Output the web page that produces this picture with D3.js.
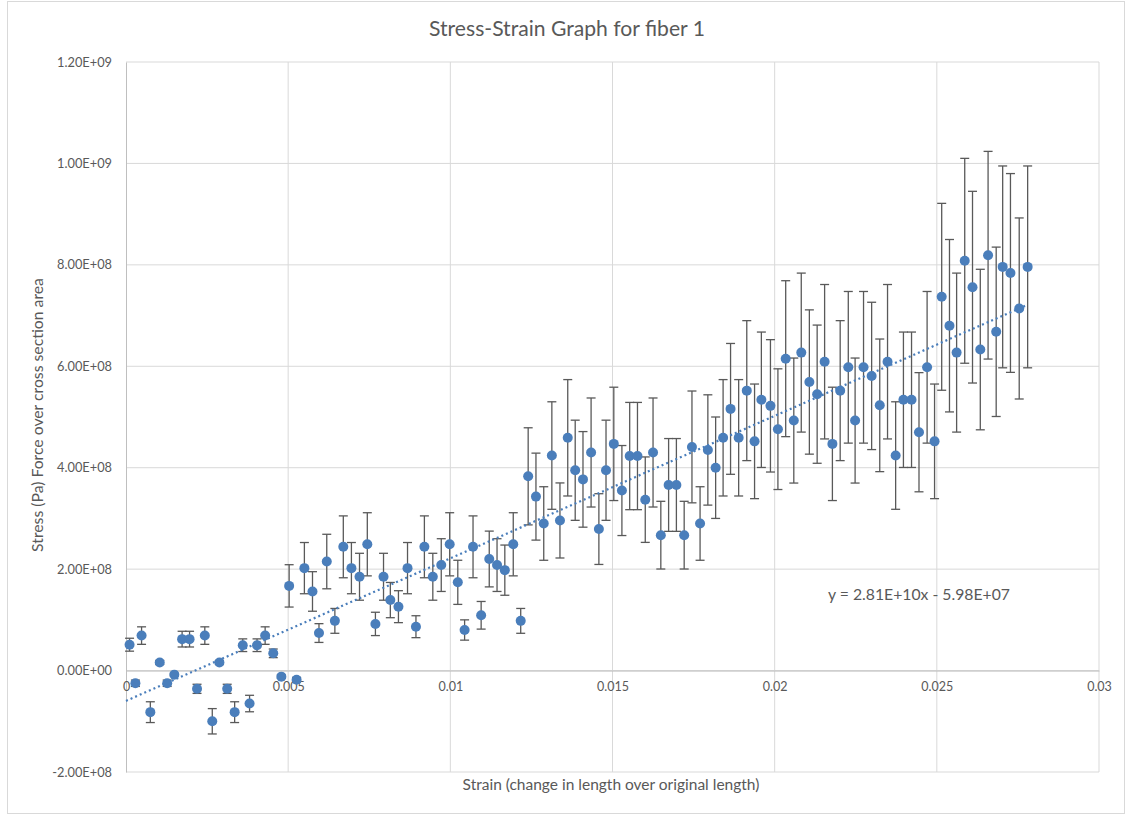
<!DOCTYPE html>
<html>
<head>
<meta charset="utf-8">
<script src="https://cdn.jsdelivr.net/npm/d3@7"></script>
<style>
  body { margin: 0; background: #fff; }
  text { font-family: Lato, "Open Sans", sans-serif; fill: #595959; }
</style>
</head>
<body>
<svg id="chart"></svg>
<script>
// strain values (x)
let strain = [
  0.00011, 0.00029, 0.00048, 0.00075, 0.00104, 0.00127, 0.00149, 0.00173, 0.00196, 0.00219,
  0.00243, 0.00266, 0.00288, 0.00312, 0.00335, 0.0036, 0.00381, 0.00404, 0.00429, 0.00454,
  0.00479, 0.00503, 0.00526, 0.0055, 0.00575, 0.00595, 0.00619, 0.00644, 0.0067, 0.00695,
  0.0072, 0.00744, 0.00769, 0.00794, 0.00815, 0.0084, 0.00868, 0.00894, 0.0092, 0.00946,
  0.00972, 0.00998, 0.01023, 0.01044, 0.0107, 0.01095, 0.0112, 0.01144, 0.01168, 0.01194,
  0.01217, 0.0124, 0.01264, 0.01288, 0.01313, 0.01338, 0.01362, 0.01385, 0.01409, 0.01434,
  0.01458, 0.0148, 0.01504, 0.01529, 0.01553, 0.01577, 0.01601, 0.01625, 0.01649, 0.01673,
  0.01697, 0.01721, 0.01745, 0.0177, 0.01794, 0.01818, 0.01841, 0.01864, 0.01889, 0.01914,
  0.01938, 0.01959, 0.01987, 0.0201, 0.02034, 0.02059, 0.02082, 0.02107, 0.02131, 0.02154,
  0.02178, 0.02202, 0.02227, 0.02248, 0.02274, 0.02299, 0.02324, 0.02348, 0.02373, 0.02397,
  0.02422, 0.02445, 0.0247, 0.02493, 0.02515, 0.02539, 0.02561, 0.02586, 0.0261, 0.02634,
  0.02658, 0.02683, 0.02703, 0.02727, 0.02754, 0.0278
];

// stress values (y, Pa)
let stress = [
  5.1e7, -2.5e7, 6.9e7, -8.2e7, 1.6e7, -2.5e7, -0.8e7, 6.2e7, 6.2e7, -3.6e7,
  6.9e7, -1.0e8, 1.6e7, -3.6e7, -8.2e7, 5.0e7, -6.5e7, 5.0e7, 6.9e7, 3.4e7,
  -1.2e7, 1.67e8, -1.8e7, 2.02e8, 1.56e8, 7.4e7, 2.15e8, 9.8e7, 2.44e8, 2.02e8,
  1.85e8, 2.49e8, 9.2e7, 1.85e8, 1.39e8, 1.26e8, 2.02e8, 8.65e7, 2.44e8, 1.85e8,
  2.08e8, 2.49e8, 1.74e8, 8.0e7, 2.44e8, 1.09e8, 2.2e8, 2.08e8, 1.98e8, 2.49e8,
  9.8e7, 3.83e8, 3.43e8, 2.9e8, 4.24e8, 2.96e8, 4.59e8, 3.95e8, 3.77e8, 4.3e8,
  2.79e8, 3.95e8, 4.47e8, 3.55e8, 4.23e8, 4.23e8, 3.37e8, 4.3e8, 2.67e8, 3.66e8,
  3.66e8, 2.67e8, 4.41e8, 2.9e8, 4.35e8, 4.0e8, 4.59e8, 5.16e8, 4.59e8, 5.52e8,
  4.52e8, 5.34e8, 5.22e8, 4.76e8, 6.15e8, 4.93e8, 6.27e8, 5.69e8, 5.45e8, 6.09e8,
  4.47e8, 5.52e8, 5.98e8, 4.93e8, 5.98e8, 5.81e8, 5.23e8, 6.09e8, 4.24e8, 5.34e8,
  5.34e8, 4.7e8, 5.98e8, 4.52e8, 7.37e8, 6.8e8, 6.27e8, 8.08e8, 7.56e8, 6.33e8,
  8.19e8, 6.68e8, 7.96e8, 7.84e8, 7.14e8, 7.96e8
];

// percentage error bars as set on the chart
let errorPercent = 0.25;

// linear trendline as printed on the chart
let slope = 2.81e10,
    intercept = -5.98e7;

let xTicks = [0, 0.005, 0.01, 0.015, 0.02, 0.025, 0.03];
let yTicks = [-2e8, 0, 2e8, 4e8, 6e8, 8e8, 1e9, 1.2e9];

let width = 1126,
    height = 817;

let blue = '#4a7ebb',
    grid = '#d9d9d9';

let svg = d3.select('#chart')
    .attr('width', width)
    .attr('height', height);

// outer chart border
svg.append('rect')
    .attr('x', 7.5).attr('y', 1.5)
    .attr('width', 1117).attr('height', 812)
    .attr('fill', '#fff')
    .attr('stroke', '#d9d9d9');

let x = d3.scaleLinear().domain([0, 0.03]).range([126, 1099]);
let y = d3.scaleLinear().domain([-2e8, 1.2e9]).range([772, 62]);

function sci(v) {
    let s = v.toExponential(2).toUpperCase();
    return s.replace(/E([+-])(\d)$/, 'E$10$2');
}

// scale a text's font so it spans the width seen in the reference
function fitWidth(sel, target) {
    let node = sel.node();
    let size = parseFloat(sel.style('font-size'));
    let w = node.getComputedTextLength();
    if (w > 0) sel.style('font-size', (size * target / w).toFixed(2) + 'px');
    return size * target / w;
}

// gridlines
svg.append('g').selectAll('line')
    .data(yTicks)
    .enter().append('line')
    .attr('x1', x(0)).attr('x2', x(0.03))
    .attr('y1', d => y(d)).attr('y2', d => y(d))
    .attr('stroke', grid);

svg.append('g').selectAll('line')
    .data(xTicks.slice(1))
    .enter().append('line')
    .attr('x1', d => x(d)).attr('x2', d => x(d))
    .attr('y1', y(1.2e9)).attr('y2', y(-2e8))
    .attr('stroke', grid);

// axes
let yAxis = svg.append('g')
    .attr('transform', `translate(${x(0)},0)`)
    .call(d3.axisLeft(y).tickValues(yTicks).tickFormat(sci).tickSize(0).tickPadding(14));
yAxis.select('.domain').attr('stroke', '#bfbfbf');
yAxis.selectAll('text').style('font-size', '12px').attr('fill', '#595959');
// "1.20E+09" is about 55px wide in the reference
let yFont = fitWidth(yAxis.selectAll('text').filter(d => d === 1.2e9), 55);
yAxis.selectAll('text').style('font-size', yFont + 'px');

let xAxis = svg.append('g')
    .attr('transform', `translate(0,${y(0)})`)
    .call(d3.axisBottom(x).tickValues(xTicks).tickFormat(d3.format('~g')).tickSize(0).tickPadding(12));
xAxis.select('.domain').attr('stroke', '#bfbfbf');
xAxis.selectAll('text').style('font-size', '12px').attr('fill', '#595959');
// "0.005" is about 32px wide
let xFont = fitWidth(xAxis.selectAll('text').filter(d => d === 0.005), 32);
xAxis.selectAll('text').style('font-size', xFont + 'px');

// error bars
let points = strain.map((s, i) => ({ x: s, y: stress[i], e: Math.abs(stress[i]) * errorPercent }));

let bars = svg.append('g')
    .attr('stroke', '#595959')
    .attr('stroke-width', 1.3);

bars.selectAll('line.bar')
    .data(points)
    .enter().append('line')
    .attr('class', 'bar')
    .attr('x1', d => x(d.x)).attr('x2', d => x(d.x))
    .attr('y1', d => y(d.y + d.e)).attr('y2', d => y(d.y - d.e));

bars.selectAll('line.capTop')
    .data(points)
    .enter().append('line')
    .attr('class', 'capTop')
    .attr('x1', d => x(d.x) - 4.5).attr('x2', d => x(d.x) + 4.5)
    .attr('y1', d => y(d.y + d.e)).attr('y2', d => y(d.y + d.e));

bars.selectAll('line.capBottom')
    .data(points)
    .enter().append('line')
    .attr('class', 'capBottom')
    .attr('x1', d => x(d.x) - 4.5).attr('x2', d => x(d.x) + 4.5)
    .attr('y1', d => y(d.y - d.e)).attr('y2', d => y(d.y - d.e));

// trendline
let xMax = d3.max(strain);
svg.append('line')
    .attr('x1', x(0)).attr('y1', y(intercept))
    .attr('x2', x(xMax)).attr('y2', y(slope * xMax + intercept))
    .attr('stroke', blue)
    .attr('stroke-width', 2.2)
    .attr('stroke-dasharray', '2,3');

// points
svg.append('g').selectAll('circle')
    .data(points)
    .enter().append('circle')
    .attr('cx', d => x(d.x))
    .attr('cy', d => y(d.y))
    .attr('r', 5)
    .attr('fill', blue);

// titles
let title = svg.append('text')
    .attr('x', 567).attr('y', 36)
    .attr('text-anchor', 'middle')
    .style('font-size', '19px')
    .text('Stress-Strain Graph for fiber 1');
fitWidth(title, 276);

let xTitle = svg.append('text')
    .attr('x', 611).attr('y', 790)
    .attr('text-anchor', 'middle')
    .style('font-size', '13px')
    .text('Strain (change in length over original length)');
fitWidth(xTitle, 297);

let yTitle = svg.append('text')
    .attr('transform', 'translate(43,415) rotate(-90)')
    .attr('text-anchor', 'middle')
    .style('font-size', '13px')
    .text('Stress (Pa) Force over cross section area');
fitWidth(yTitle, 274);

let eqn = svg.append('text')
    .attr('x', 828).attr('y', 600)
    .style('font-size', '15px')
    .text('y = 2.81E+10x - 5.98E+07');
fitWidth(eqn, 182);
</script>
</body>
</html>
